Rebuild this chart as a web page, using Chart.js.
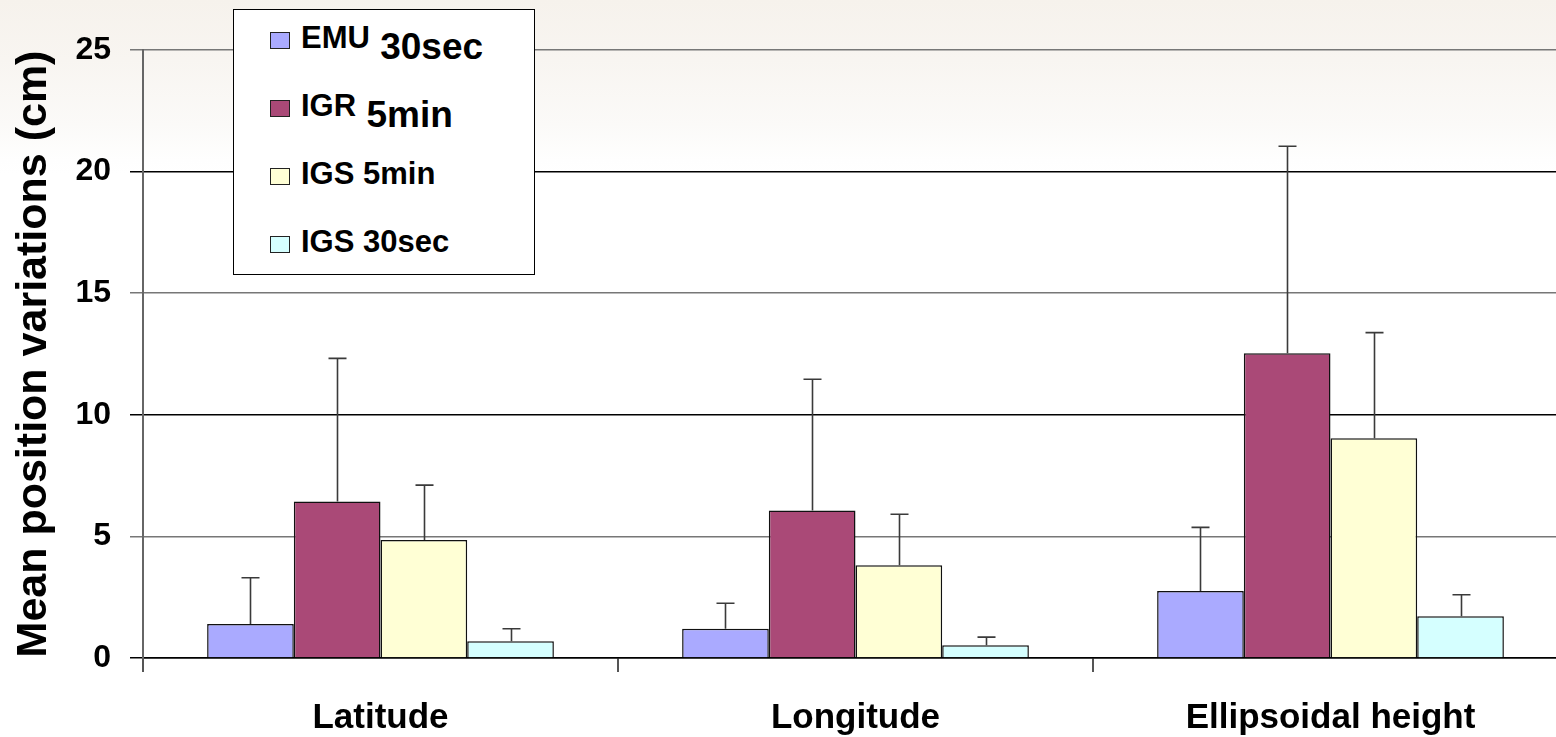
<!DOCTYPE html>
<html>
<head>
<meta charset="utf-8">
<script src="https://cdn.jsdelivr.net/npm/chart.js@4/dist/chart.umd.min.js"></script>
<style>
 html, body { margin:0; padding:0; overflow:hidden; }
 body { width:1556px; height:737px; position:relative;
   background: linear-gradient(to bottom, #f6f2ec 0px, #f8f5f1 60px, #fbfaf8 125px, #fefefe 160px, #ffffff 175px); }
 #grafico { position:absolute; left:0; top:0; }
 #leyendaCaja { position:absolute; left:233px; top:9px; width:300px; height:264px; border:1.5px solid #000; background:#fff; }
 .itemLeyenda { position:absolute; left:301px; font:bold 31px "Liberation Sans", Arial, sans-serif; line-height:1; white-space:nowrap; color:#000; }
 .itemLeyenda .sufijo { font-size:37px; line-height:0; position:relative; top:11px; }
 .cuadro { position:absolute; left:270px; width:20px; height:17px; border:1.5px solid #222; box-sizing:border-box; }
</style>
</head>
<body>
<canvas id="grafico" width="1570" height="737"></canvas>
<div id="leyendaCaja"></div>
<script>
//Datos del grafico
const categorias = ["Latitude", "Longitude", "Ellipsoidal height"];
const nombresSeries = ["EMU", "IGR", "IGS 5min", "IGS 30sec"];
const sufijosLeyenda = ["30sec", "5min", "", ""];
const valoresEMU = [1.4, 1.2, 2.76];
const erroresEMU = [1.9, 1.05, 2.61];
const valoresIGR = [6.43, 6.07, 12.53];
const erroresIGR = [5.89, 5.39, 8.51];
const valoresIGS5 = [4.85, 3.81, 9.04];
const erroresIGS5 = [2.26, 2.1, 4.34];
const valoresIGS30 = [0.69, 0.52, 1.72];
const erroresIGS30 = [0.51, 0.34, 0.88];
const ticksY = [0, 5, 10, 15, 20, 25];
const tituloY = "Mean position variations (cm)";

const colores = ["#aaaaff", "#aa4977", "#ffffd5", "#d5ffff"];
const FUENTE = '"Liberation Sans", Arial, sans-serif';

//Plugin que dibuja las barras de error (solo hacia arriba)
const barrasError = {
  id: "barrasError",
  afterDatasetsDraw(chart) {
    const ctx = chart.ctx;
    const escalaY = chart.scales.y;
    ctx.save();
    ctx.strokeStyle = "#3a3a3a";
    ctx.lineWidth = 1.6;
    chart.data.datasets.forEach(function (ds, i) {
      const meta = chart.getDatasetMeta(i);
      meta.data.forEach(function (barra, j) {
        const tope = escalaY.getPixelForValue(ds.data[j] + ds.errores[j]);
        const x = Math.round(barra.x) + 0.5;
        ctx.beginPath();
        ctx.moveTo(x, barra.y);
        ctx.lineTo(x, tope);
        ctx.moveTo(x - 9, tope);
        ctx.lineTo(x + 9, tope);
        ctx.stroke();
      });
    });
    ctx.restore();
  }
};

const series = [
  { valores: valoresEMU, errores: erroresEMU },
  { valores: valoresIGR, errores: erroresIGR },
  { valores: valoresIGS5, errores: erroresIGS5 },
  { valores: valoresIGS30, errores: erroresIGS30 }
];

const datasets = series.map(function (s, i) {
  return {
    label: nombresSeries[i],
    data: s.valores,
    errores: s.errores,
    backgroundColor: colores[i],
    borderColor: "#111",
    borderWidth: 1.5,
    borderSkipped: "bottom",
    categoryPercentage: 0.73,
    barPercentage: 1.0
  };
});

Chart.defaults.font.family = FUENTE;
Chart.defaults.color = "#000";

new Chart(document.getElementById("grafico"), {
  type: "bar",
  data: { labels: categorias, datasets: datasets },
  options: {
    responsive: false,
    animation: false,
    devicePixelRatio: 1,
    layout: { padding: { top: 50, right: 2, bottom: 0, left: 0 } },
    plugins: { legend: { display: false }, tooltip: { enabled: false } },
    scales: {
      x: {
        afterFit: function (escala) { escala.height = 79; },
        grid: { offset: true, drawOnChartArea: false, tickLength: 14, color: "#555", lineWidth: 2 },
        border: { color: "#000", width: 1.5 },
        ticks: { font: { size: 35, weight: "bold" }, padding: 25, maxRotation: 0 }
      },
      y: {
        min: 0,
        max: 25,
        afterBuildTicks: function (escala) {
          escala.ticks = ticksY.map(function (v) { return { value: v }; });
        },
        afterFit: function (escala) { escala.width = 143; },
        grid: {
          tickLength: 13,
          lineWidth: 1.5,
          color: function (c) { return (c.tick && c.tick.value % 10 === 0) ? "#000" : "#777"; }
        },
        border: { color: "#666", width: 2 },
        ticks: { font: { size: 32, weight: "bold" }, padding: 19 },
        title: { display: true, text: tituloY, font: { size: 43, weight: "bold" }, padding: { top: 8, bottom: 0 } }
      }
    }
  },
  plugins: [barrasError]
});

//Leyenda en html, con el texto real
for (let i = 0; i < nombresSeries.length; i++) {
  const base = 48 + i * 68;
  const cuadro = document.createElement("div");
  cuadro.className = "cuadro";
  cuadro.style.top = (base - 16) + "px";
  cuadro.style.background = colores[i];
  document.body.appendChild(cuadro);

  const item = document.createElement("div");
  item.className = "itemLeyenda";
  item.style.top = (base - 26.2) + "px";
  item.textContent = nombresSeries[i];
  if (sufijosLeyenda[i]) {
    const suf = document.createElement("span");
    suf.className = "sufijo";
    suf.textContent = " " + sufijosLeyenda[i];
    item.appendChild(suf);
  }
  document.body.appendChild(item);
}
</script>
</body>
</html>
